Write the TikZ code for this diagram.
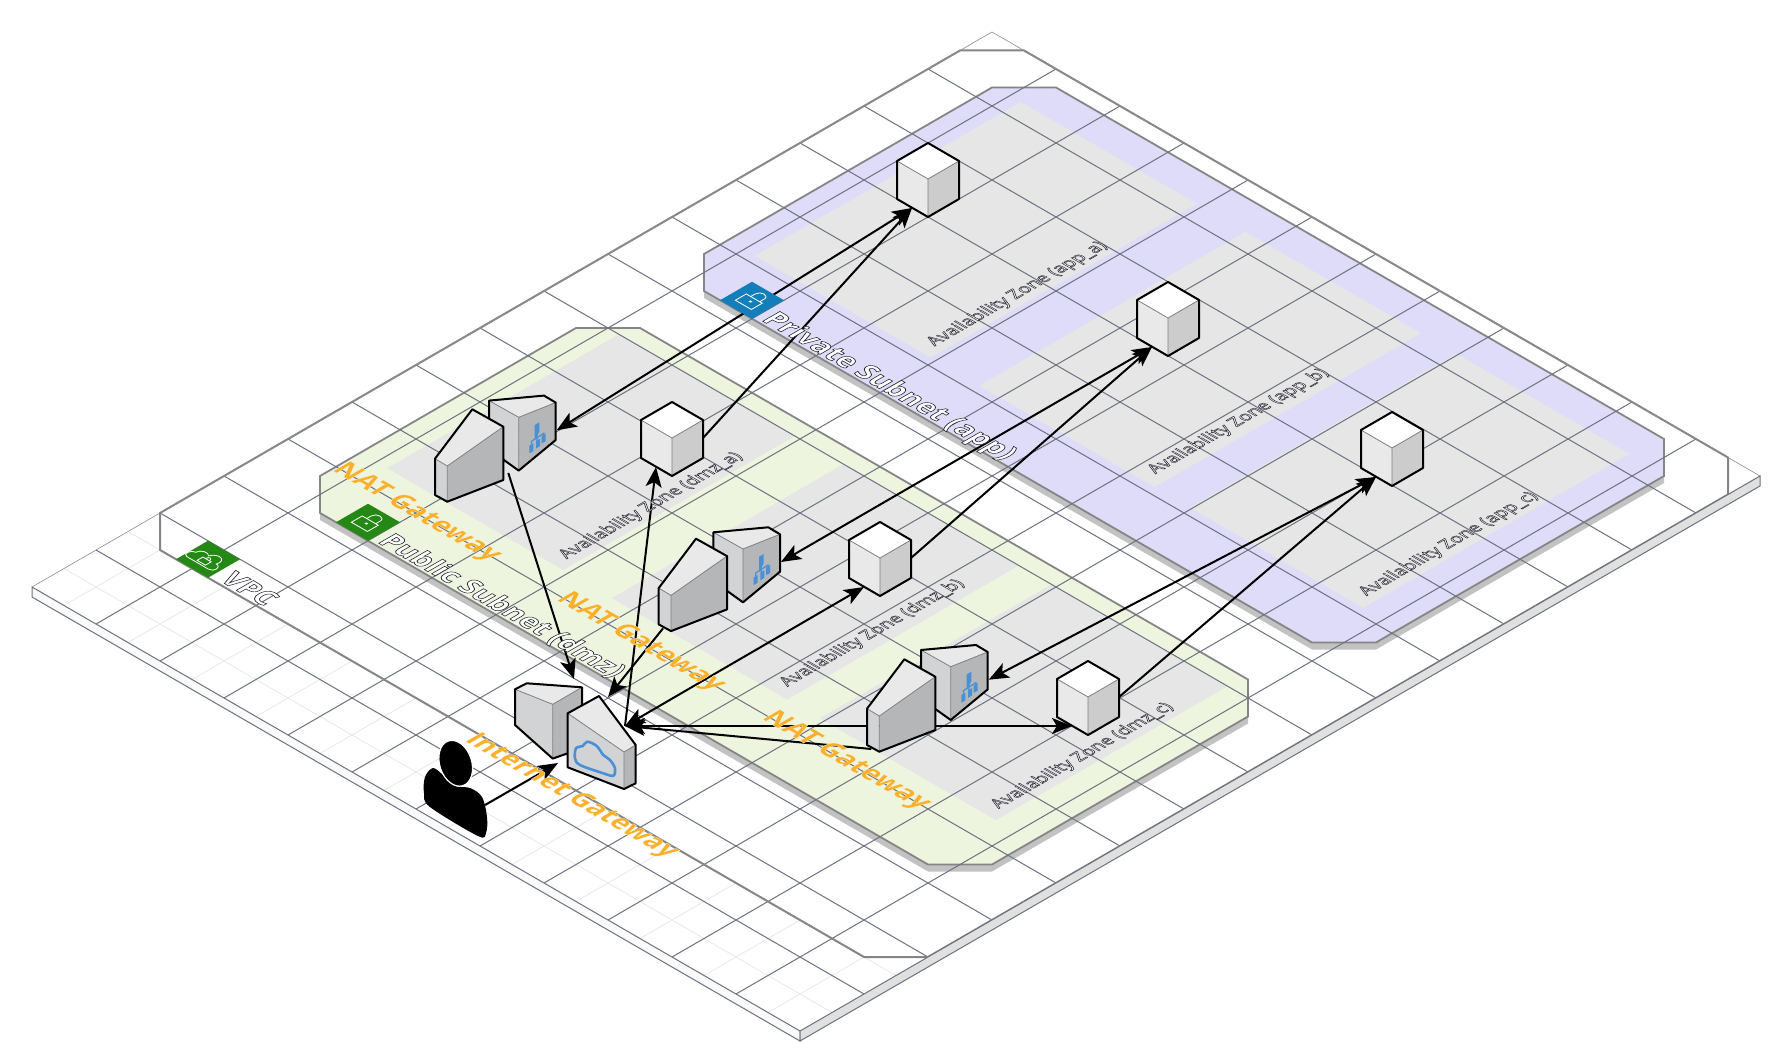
\documentclass[tikz,border=0pt]{standalone}
\usepackage{fontspec}
\setmainfont{Open Sans}
\usetikzlibrary{calc}
\usetikzlibrary{arrows.meta}

\definecolor{gridDark}{HTML}{6B7280}
\definecolor{gridPale}{HTML}{E8E8E8}
\definecolor{groupEdge}{HTML}{858585}
\definecolor{groupShadow}{HTML}{C2C2C2}
\definecolor{publicFill}{HTML}{EEF5DE}
\definecolor{privateFill}{HTML}{DEDCF8}
\definecolor{azFill}{HTML}{E6E6E6}
\definecolor{faceTop}{HTML}{E9E9E9}
\definecolor{faceLeft}{HTML}{D2D3D5}
\definecolor{faceRight}{HTML}{B5B6B8}
\definecolor{awsGreen}{HTML}{248814}
\definecolor{awsBlue}{HTML}{147EBA}
\definecolor{iconBlue}{HTML}{4A90D6}

\newfontfamily\ghostfont[BoldFeatures={FakeBold=2.4}]{Open Sans}
\newfontfamily\smallghostfont[FakeBold=3]{Open Sans}
\newfontfamily\natfont[BoldFeatures={FakeBold=.5}]{Open Sans}
\newcommand\ghosttext[1]{\special{pdf:bc [1 1 1] [.15 .15 .2]}\ghostfont\bfseries #1\special{pdf:ec}}
\newcommand\smallghost[1]{\special{pdf:bc [1 1 1] [.15 .15 .2]}\smallghostfont #1\special{pdf:ec}}
\newcommand\gatetext[1]{\special{pdf:bc [.98 .69 .16] [1 1 1]}\natfont\bfseries #1\special{pdf:ec}}

% plain box on the plate: style, u1, v1, u2, v2
\newcommand\isorect[5]{
    \path[#1] (#2, #3) -- (#2, #5) -- (#4, #5) -- (#4, #3) -- cycle;
}
% group outline with cut corners: style, u1, v1, u2, v2
\newcommand\isogroup[5]{
    \path[#1] (#2, #3 + .5) -- (#2, #5 - .5) -- (#2 + .5, #5) -- (#4 - .5, #5)
        -- (#4, #5 - .5) -- (#4, #3 + .5) -- (#4 - .5, #3) -- (#2 + .5, #3) -- cycle;
}

\pgfdeclarelayer{base}
\pgfdeclarelayer{links}
\pgfdeclarelayer{labels}
\pgfsetlayers{base,links,main,labels}

\tikzset{
    iso/.style={shift={(32,587)}, x={(32pt,-18.5pt)}, y={(32pt,18.5pt)}},
    solid face/.style={draw=black, line width=1pt, line join=round},
    thin seam/.style={draw=gray, line width=.4pt},
    along u/.style={cm={.866,-.5,.866,.5,(0,0)}, anchor=base west, inner sep=0},
    along v/.style={cm={.866,.5,-.866,.5,(0,0)}, anchor=base west, inner sep=0},
    grouplabel/.style={along u, font=\fontsize{13.8}{16}\selectfont},
    azlabel/.style={along v, font=\fontsize{8.9}{10}\selectfont},
    gatelabel/.style={along u, font=\fontsize{13.8}{16}\selectfont},
    badgeline/.style={draw=white, line width=.4pt},
    link/.tip={Stealth[length=10pt, width=8pt, inset=2.4pt]},
    oneway/.style={line width=1pt, -{link}},
    twoway/.style={line width=1pt, {link}-{link}},
    isocube/.pic={
        \fill[white] (0, 0) -- (31, 18) -- (0, 36) -- (-31, 18) -- cycle;
        \fill[faceTop] (-31, 18) -- (0, 36) -- (0, 74) -- (-31, 56) -- cycle;
        \fill[black!20] (31, 18) -- (0, 36) -- (0, 74) -- (31, 56) -- cycle;
        \draw[thin seam] (-31, 18) -- (0, 36) -- (31, 18) (0, 36) -- (0, 74);
        \draw[solid face] (0, 0) -- (31, 18) -- (31, 56) -- (0, 74) -- (-31, 56) -- (-31, 18) -- cycle;
        \coordinate (-low) at (-16, 65);
        \coordinate (-out) at (31, 36);
    },
    balancer/.pic={
        \fill[faceTop] (-29.7, -16.7) -- (25.3, -21.7) -- (37, -14.7) -- (0, 0) -- cycle;
        \fill[faceLeft] (-29.7, -16.7) -- (0, 0) -- (0, 53.3) -- (-29.7, 32) -- cycle;
        \fill[faceRight] (0, 0) -- (37, -14.7) -- (37, 22.7) -- (0, 53.3) -- cycle;
        \draw[thin seam] (-29.7, -16.7) -- (0, 0) -- (37, -14.7) (0, 0) -- (0, 53.3);
        \draw[solid face] (-29.7, 32) -- (-29.7, -16.7) -- (25.3, -21.7) -- (37, -14.7)
            -- (37, 22.7) -- (0, 53.3) -- cycle;
        \fill[iconBlue] (16, 7.7) -- (20.7, 5) -- (20.7, 14.3) -- (16, 23) -- cycle;
        \fill[iconBlue] (10.7, 28.3) -- (14.7, 26) -- (14.7, 33.7) -- (10.7, 36) -- cycle;
        \fill[iconBlue] (17.3, 23.7) -- (21.3, 21.3) -- (21.3, 28.7) -- (17.3, 31.3) -- cycle;
        \fill[iconBlue] (23, 18.7) -- (27, 16) -- (27, 24) -- (23, 26) -- cycle;
        \draw[iconBlue, line width=.6pt] (18.3, 15) -- (18.3, 24) (12.7, 27) -- (12.7, 24)
            -- (25, 16) -- (25, 18);
        \coordinate (-in) at (38, 13);
    },
    natbox/.pic={
        \fill[faceTop] (-12.3, -7.3) -- (25, -56.7) -- (56, -39.3) -- (0, 0) -- cycle;
        \fill[faceLeft] (-12.3, -7.3) -- (0, 0) -- (0, 35.7) -- (-12.3, 29) -- cycle;
        \fill[faceRight] (0, 0) -- (56, -39.3) -- (56, 14) -- (0, 35.7) -- cycle;
        \draw[thin seam] (-12.3, -7.3) -- (0, 0) -- (56, -39.3) (0, 0) -- (0, 35.7);
        \draw[solid face] (-12.3, -7.3) -- (25, -56.7) -- (56, -39.3) -- (56, 14)
            -- (0, 35.7) -- (-12.3, 29) -- cycle;
        \coordinate (-bot) at (-8, 33);
        \coordinate (-side) at (61, 7);
    },
    gatebox/.pic={
        % rear block
        \fill[faceTop] (-109, -62.7) -- (-97.3, -68.7) -- (-42, -64.7) -- (-71.3, -47.7) -- cycle;
        \fill[faceLeft] (-109, -62.7) -- (-71.3, -47.7) -- (-71.3, 6.6) -- (-109, -27) -- cycle;
        \fill[faceRight] (-71.3, -47.7) -- (-42, -64.7) -- (-42, -3.7) -- (-71.3, 6.6) -- cycle;
        \draw[thin seam] (-109, -62.7) -- (-71.3, -47.7) -- (-42, -64.7) (-71.3, -47.7) -- (-71.3, 6.6);
        \draw[solid face] (-109, -62.7) -- (-97.3, -68.7) -- (-42, -64.7) -- (-42, -3.7)
            -- (-71.3, 6.6) -- (-109, -27) -- cycle;
        % front block
        \fill[faceTop] (-56.3, -38.7) -- (-25, -56) -- (11.7, -7) -- (0, 0) -- cycle;
        \fill[faceLeft] (-56.3, -38.7) -- (0, 0) -- (0, 37) -- (-56.3, 15.3) -- cycle;
        \fill[faceRight] (0, 0) -- (11.7, -7) -- (11.7, 31.3) -- (0, 37) -- cycle;
        \draw[thin seam] (-56.3, -38.7) -- (0, 0) -- (11.7, -7) (0, 0) -- (0, 37);
        \draw[solid face] (-56.3, -38.7) -- (-25, -56) -- (11.7, -7) -- (11.7, 31.3)
            -- (0, 37) -- (-56.3, 15.3) -- cycle;
        \draw[iconBlue, line width=1.3pt] plot[smooth cycle, tension=.55] coordinates {
            (-44, 13) (-49, 6.3) (-48, -3.7) (-41.3, -6) (-36.7, -10.3) (-27.3, -6)
            (-20.7, 3) (-14, 8) (-9, 16.3) (-10.7, 23.7) (-20.7, 21.3)};
        \coordinate (-port) at (1, -26);
        \coordinate (-rear) at (-50, -73);
        \coordinate (-top) at (-16, -55);
        \coordinate (-left) at (-66, 11);
    },
    person/.pic={
        \fill[black] plot[smooth cycle, tension=.55] coordinates {
            (-31.7, 29.7) (-30.7, 13.7) (-22.7, 4.7) (-12.7, 11.7) (-.7, 22.7) (14.3, 24.7)
            (26.3, 33.7) (31.3, 53.7) (30.3, 69.7) (22.3, 72.7) (-25.7, 43.7)};
        \draw[white, fill=black, line width=.6pt]
            (0, 0) ellipse [x radius=23.5, y radius=16, rotate=-72];
        \coordinate (-out) at (29.3, 41.7);
    },
    lockicon/.pic={
        \isorect{badgeline}{-.13}{-.13}{.12}{.04}
        \draw[badgeline] (-.06, .04) -- (-.06, .11) .. controls (-.06, .2) and (.08, .2) .. (.08, .11) -- (.08, .04);
        \fill[white] (-.01, -.045) -- (.02, -.045) -- (.02, -.015) -- (-.01, -.015) -- cycle;
    },
    vpcicon/.pic={
        \draw[badgeline] (-.2, -.13) .. controls (-.27, -.13) and (-.27, 0) .. (-.19, 0)
            .. controls (-.19, .08) and (-.08, .1) .. (-.04, .05)
            .. controls (0, .17) and (.17, .14) .. (.13, 0)
            .. controls (.22, 0) and (.22, -.13) .. (.14, -.13) -- cycle;
        \isorect{badgeline}{-.07}{-.1}{.06}{-.01}
        \draw[badgeline] (-.03, -.01) .. controls (-.03, .05) and (.03, .05) .. (.03, -.01);
    },
}

\begin{document}
\begin{tikzpicture}[x=.5pt, y=-.5pt]
    \useasboundingbox (0, 0) rectangle (1792, 1063);

\begin{pgfonlayer}{base}
    \begin{scope}[iso]
        \coordinate (plate-l) at (0, 0);
        \coordinate (plate-t) at (0, 15);
        \coordinate (plate-r) at (12, 15);
        \coordinate (plate-b) at (12, 0);

        \fill[white] (plate-l) -- (plate-t) -- (plate-r) -- (plate-b) -- cycle;

        % pale half steps, seen only outside the vpc
        \foreach \i in {0.5, 1.5, ..., 11.5}
            \draw[gridPale, line width=.4pt] (\i, 0) -- (\i, 15);
        \foreach \j in {0.5, 1.5, ..., 14.5}
            \draw[gridPale, line width=.4pt] (0, \j) -- (12, \j);

        \isogroup{fill=white}{0}{1.5}{12}{15}

        \isogroup{fill=groupShadow, yshift=-3.5pt}{.75}{3.25}{11.25}{8.25}
        \isogroup{fill=publicFill, draw=groupEdge, line width=.9pt}{.75}{3.25}{11.25}{8.25}
        \isogroup{fill=groupShadow, yshift=-3.5pt}{.75}{9.25}{11.25}{14.75}
        \isogroup{fill=privateFill, draw=groupEdge, line width=.9pt}{.75}{9.25}{11.25}{14.75}

        % availability zones
        \isorect{fill=azFill}{1.17}{4.38}{3.92}{8}
        \isorect{fill=azFill}{4.68}{4.38}{7.42}{8}
        \isorect{fill=azFill}{7.93}{4.38}{10.68}{8}
        \isorect{fill=azFill}{1.17}{10.12}{3.92}{14.28}
        \isorect{fill=azFill}{4.68}{10.12}{7.42}{14.28}
        \isorect{fill=azFill}{7.97}{10.12}{10.68}{14.28}

        \foreach \i in {1, ..., 11}
            \draw[gridDark, line width=.5pt] (\i, 0) -- (\i, 15);
        \foreach \j in {1, ..., 14}
            \draw[gridDark, line width=.5pt] (0, \j) -- (12, \j);

        \isogroup{draw=groupEdge, line width=1pt}{0}{1.5}{12}{15}
    \end{scope}

    % plate sides
    \draw[gridDark, fill=black!2, line width=.5pt] (plate-l) -- (plate-b) -- ($(plate-b)+(0,10)$)
        -- ($(plate-l)+(0,10)$) -- cycle;
    \draw[gridDark, fill=black!12, line width=.5pt] (plate-b) -- (plate-r) -- ($(plate-r)+(0,10)$)
        -- ($(plate-b)+(0,10)$) -- cycle;
    \draw[black!45, line width=.3pt] (plate-l) -- (plate-t) -- (plate-r);
\end{pgfonlayer}

    \pic (cube-app-a) at (928, 143) {isocube};
    \pic (cube-app-b) at (1168, 282) {isocube};
    \pic (cube-app-c) at (1392, 412) {isocube};
    \pic (cube-dmz-a) at (672, 402) {isocube};
    \pic (cube-dmz-b) at (880, 522) {isocube};
    \pic (cube-dmz-c) at (1088, 661) {isocube};

    \pic (lb-a) at (518.7, 417.3) {balancer};
    \pic (lb-b) at (743, 549) {balancer};
    \pic (lb-c) at (950.7, 666.7) {balancer};

    \pic (nat-a) at (447.3, 466) {natbox};
    \pic (nat-b) at (671, 595.4) {natbox};
    \pic (nat-c) at (879.3, 716) {natbox};

    \pic (igw) at (624, 752) {gatebox};
    \pic (user) at (455.7, 763.3) {person};

\begin{pgfonlayer}{links}
    \draw[oneway] (user-out) -- (igw-left);
    \draw[oneway] (nat-a-side) -- (igw-rear);
    \draw[oneway] (nat-b-bot) -- (igw-top);
    \draw[oneway] (nat-c-bot) -- (igw-port);
    \draw[oneway] (igw-port) -- (cube-dmz-a-low);
    \draw[twoway] (igw-port) -- (cube-dmz-b-low);
    \draw[twoway] (igw-port) -- (cube-dmz-c-low);

    \draw[twoway] (lb-a-in) -- (cube-app-a-low);
    \draw[twoway] (lb-b-in) -- (cube-app-b-low);
    \draw[twoway] (lb-c-in) -- (cube-app-c-low);
    \draw[oneway] (cube-dmz-a-out) -- (cube-app-a-low);
    \draw[oneway] (cube-dmz-b-out) -- (cube-app-b-low);
    \draw[oneway] (cube-dmz-c-out) -- (cube-app-c-low);
\end{pgfonlayer}

\begin{pgfonlayer}{labels}
    \begin{scope}[iso]
        \isorect{fill=awsGreen}{.75}{1.5}{1.25}{2}
        \pic at (1, 1.75) {vpcicon};
        \isorect{fill=awsGreen}{1.5}{3.25}{2}{3.75}
        \pic at (1.75, 3.5) {lockicon};
        \isorect{fill=awsBlue}{1.5}{9.25}{2}{9.75}
        \pic at (1.75, 9.5) {lockicon};

        \node[grouplabel] (vpc-text) at (1.36, 1.55) {\ghosttext{VPC}};
        \node[grouplabel] (public-text) at (2.08, 3.3) {\ghosttext{Public Subnet (dmz)}};
        \node[grouplabel] (private-text) at (2.08, 9.3) {\ghosttext{Private Subnet (app)}};

        \node[gatelabel] (nat-a-text) at (.75, 3.92) {\gatetext{NAT Gateway}};
        \node[gatelabel] (nat-b-text) at (4.25, 3.92) {\gatetext{NAT Gateway}};
        \node[gatelabel] (nat-c-text) at (7.46, 3.92) {\gatetext{NAT Gateway}};
        \node[gatelabel, font=\fontsize{13.4}{16}\selectfont] (igw-text) at (5.44, 1.3) {\gatetext{Internet Gateway}};

        \node[azlabel] (az-dmz-a) at (3.8, 4.55) {\smallghost{Availability Zone (dmz\_a)}};
        \node[azlabel] (az-dmz-b) at (7.25, 4.55) {\smallghost{Availability Zone (dmz\_b)}};
        \node[azlabel] (az-dmz-c) at (10.55, 4.55) {\smallghost{Availability Zone (dmz\_c)}};
        \node[azlabel] (az-app-a) at (3.8, 10.3) {\smallghost{Availability Zone (app\_a)}};
        \node[azlabel] (az-app-b) at (7.25, 10.3) {\smallghost{Availability Zone (app\_b)}};
        \node[azlabel] (az-app-c) at (10.55, 10.3) {\smallghost{Availability Zone (app\_c)}};
    \end{scope}
\end{pgfonlayer}
\end{tikzpicture}
\end{document}
